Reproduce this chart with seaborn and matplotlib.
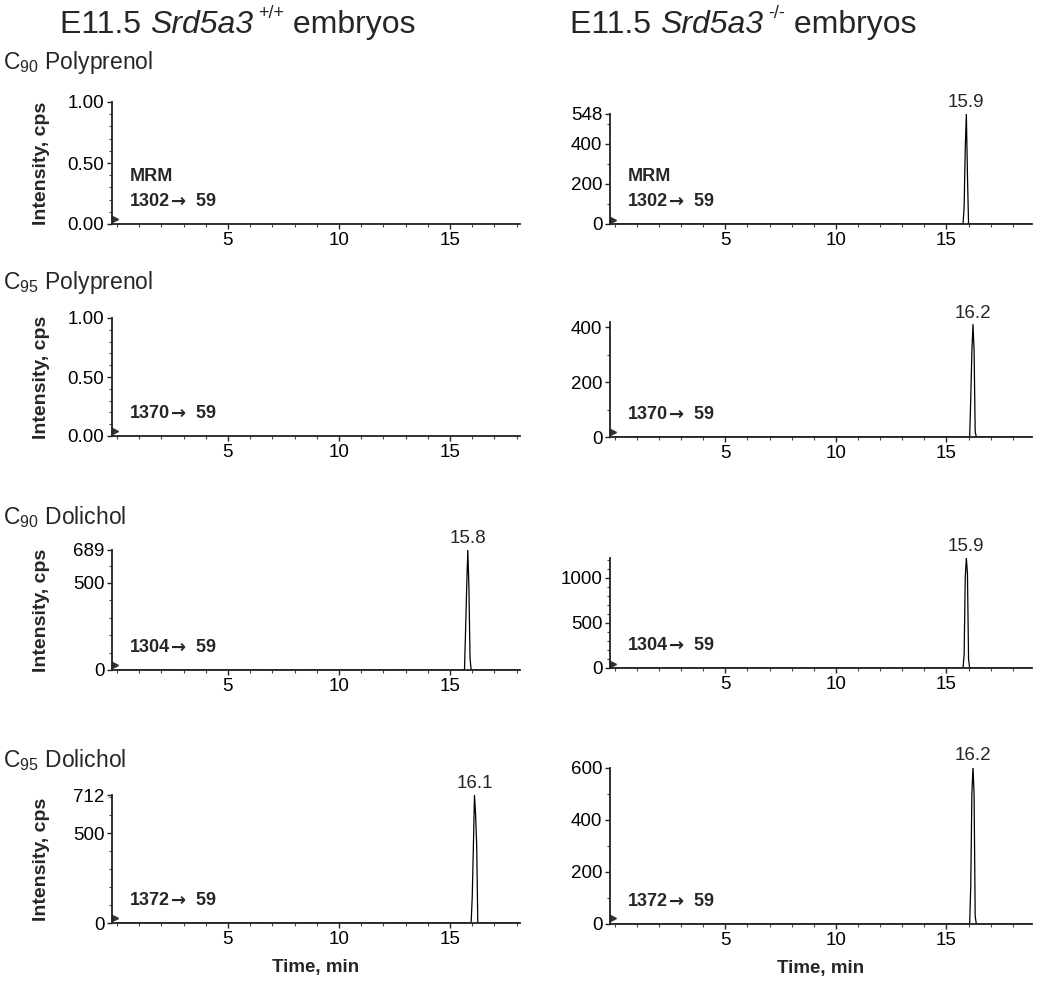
import numpy as np
import pandas as pd
import matplotlib
matplotlib.use("Agg")
import matplotlib.pyplot as plt
import seaborn as sns
from matplotlib.ticker import MultipleLocator, FixedLocator

# ---- data (time in min, intensity in cps) ----
# Srd5a3 +/+ (left column)
wt_c90_poly_t = [0.0, 18.7]
wt_c90_poly_y = [0, 0]
wt_c95_poly_t = [0.0, 18.7]
wt_c95_poly_y = [0, 0]
wt_c90_doli_t = [0.0, 15.65, 15.7, 15.75, 15.8, 15.85, 15.9, 15.95, 18.7]
wt_c90_doli_y = [0, 0, 230, 477, 689, 477, 69, 0, 0]
wt_c95_doli_t = [0.0, 15.95, 16.0, 16.05, 16.1, 16.15, 16.2, 16.25, 18.7]
wt_c95_doli_y = [0, 0, 147, 420, 712, 604, 430, 0, 0]

# Srd5a3 -/- (right column)
ko_c90_poly_t = [0.0, 15.75, 15.8, 15.85, 15.9, 15.95, 16.0, 18.9]
ko_c90_poly_y = [0, 0, 86, 377, 548, 244, 0, 0]
ko_c95_poly_t = [0.0, 16.05, 16.1, 16.15, 16.2, 16.25, 16.3, 16.35, 18.9]
ko_c95_poly_y = [0, 0, 140, 315, 411, 315, 20, 0, 0]
ko_c90_doli_t = [0.0, 15.75, 15.8, 15.85, 15.9, 15.95, 16.0, 16.05, 18.9]
ko_c90_doli_y = [0, 0, 150, 1000, 1222, 1050, 100, 0, 0]
ko_c95_doli_t = [0.0, 16.05, 16.1, 16.15, 16.2, 16.25, 16.3, 16.35, 18.9]
ko_c95_doli_y = [0, 0, 150, 500, 605, 500, 30, 0, 0]

row_names = ["C$_{90}$ Polyprenol", "C$_{95}$ Polyprenol", "C$_{90}$ Dolichol", "C$_{95}$ Dolichol"]
precursors = ["1302", "1370", "1304", "1372"]
product_ion = "59"
wt_peak_labels = [None, None, "15.8", "16.1"]
ko_peak_labels = ["15.9", "16.2", "15.9", "16.2"]
wt_yticks = [[0, 0.5, 1.0], [0, 0.5, 1.0], [0, 500, 689], [0, 500, 712]]
ko_yticks = [[0, 200, 400, 548], [0, 200, 400], [0, 500, 1000], [0, 200, 400, 600]]
wt_ymax = [1.0, 1.0, 689, 712]
ko_ymax = [548, 420, 1222, 600]

wt_series = [(wt_c90_poly_t, wt_c90_poly_y), (wt_c95_poly_t, wt_c95_poly_y),
             (wt_c90_doli_t, wt_c90_doli_y), (wt_c95_doli_t, wt_c95_doli_y)]
ko_series = [(ko_c90_poly_t, ko_c90_poly_y), (ko_c95_poly_t, ko_c95_poly_y),
             (ko_c90_doli_t, ko_c90_doli_y), (ko_c95_doli_t, ko_c95_doli_y)]

# ---- style ----
sns.set_style("ticks")
plt.rcParams['font.family'] = ['Liberation Sans', 'DejaVu Sans']
plt.rcParams['mathtext.fontset'] = 'custom'
plt.rcParams['mathtext.rm'] = 'Liberation Sans'
plt.rcParams['mathtext.it'] = 'Liberation Sans:italic'

W, H = 1050, 991
fig = plt.figure(figsize=(W / 100, H / 100), dpi=100)

# axes boxes in pixels: (left, right, top, bottom)
wt_boxes = [(112, 520, 102, 224), (112, 520, 318, 436), (112, 520, 550, 670), (112, 520, 795, 923)]
ko_boxes = [(610, 1032, 114, 224), (610, 1032, 322, 437), (610, 1032, 558, 668), (610, 1032, 768, 924)]
wt_xlim = (-0.22, 18.15)
ko_xlim = (-0.22, 18.87)


def make_axes(box):
    l, r, t, b = box
    return fig.add_axes([l / W, 1 - b / H, (r - l) / W, (b - t) / H])


def transition_label(ax, prec, offset):
    t1 = ax.annotate(prec, xy=(0, 0), xycoords="axes fraction", xytext=offset,
                     textcoords="offset points", fontsize=13, fontweight="bold",
                     ha="left", va="center")
    ax.annotate("\u2192", xy=(1, 0), xycoords=t1, xytext=(0.5, -0.5),
                textcoords="offset points", fontsize=13, fontweight="bold",
                family="DejaVu Sans", ha="left", va="bottom")
    ax.annotate(" " + product_ion, xy=(1, 0), xycoords=t1, xytext=(15, 0),
                textcoords="offset points", fontsize=13, fontweight="bold",
                ha="left", va="bottom")


def draw_panel(ax, t, y, xlim, ymax, yticks, peak_label, prec, mrm, ylabel, xlabel):
    df = pd.DataFrame({"time": t, "intensity": y})
    sns.lineplot(data=df, x="time", y="intensity", ax=ax, color="black",
                 linewidth=0.9, estimator=None, sort=False)
    ax.set_xlim(*xlim)
    ax.set_ylim(0, ymax)
    ax.set_xticks([5, 10, 15])
    ax.xaxis.set_minor_locator(MultipleLocator(1))
    ax.yaxis.set_major_locator(FixedLocator(yticks))
    if ymax <= 1.0:
        ax.set_yticklabels([f"{v:.2f}" for v in yticks])
        ax.yaxis.set_minor_locator(MultipleLocator(0.1))
    else:
        ax.set_yticklabels([f"{v:d}" for v in yticks])
        ax.yaxis.set_minor_locator(MultipleLocator(100))
    ax.tick_params(axis="both", which="major", labelsize=13.5, length=3.5, width=1,
                   color="#222222", labelcolor="black", pad=2)
    ax.tick_params(axis="both", which="minor", length=2, width=0.8, color="#444444")
    for s in ["top", "right"]:
        ax.spines[s].set_visible(False)
    for s in ["left", "bottom"]:
        ax.spines[s].set_linewidth(1.3)
        ax.spines[s].set_color("#222222")

    ax.set_xlabel("")
    ax.set_ylabel("")
    if ylabel:
        ax.set_ylabel("Intensity, cps", fontsize=14, fontweight="bold")
        ax.yaxis.set_label_coords(-0.152, 0.5)
    if xlabel:
        ax.set_xlabel("Time, min", fontsize=13.5, fontweight="bold", labelpad=8)

    # origin marker
    ax.plot([xlim[0] + 0.12], [ymax * 0.04], marker=">", color="#333333",
            markersize=5, clip_on=False, linestyle="none")

    # MRM transition annotation
    transition_label(ax, prec, (13, 16))
    if mrm:
        ax.annotate("MRM", xy=(0, 0), xycoords="axes fraction", xytext=(13, 34),
                    textcoords="offset points", fontsize=13, fontweight="bold",
                    ha="left", va="center")

    if peak_label is not None:
        i = int(np.argmax(y))
        ax.annotate(peak_label, xy=(t[i], y[i]), xytext=(0, 2), textcoords="offset points",
                    ha="center", va="bottom", fontsize=13.5, annotation_clip=False)


for r in range(4):
    axl = make_axes(wt_boxes[r])
    draw_panel(axl, wt_series[r][0], wt_series[r][1], wt_xlim, wt_ymax[r], wt_yticks[r],
               wt_peak_labels[r], precursors[r], r == 0, True, r == 3)
    axr = make_axes(ko_boxes[r])
    draw_panel(axr, ko_series[r][0], ko_series[r][1], ko_xlim, ko_ymax[r], ko_yticks[r],
               ko_peak_labels[r], precursors[r], r == 0, False, r == 3)

# column titles, built from pieces so the gene name is fully italic
for x0, geno in [(60, "+/+"), (570, "-/-")]:
    p = fig.text(x0 / W, 1 - 40 / H, "E11.5 ", fontsize=23, ha="left", va="bottom")
    p = plt.annotate("Srd5a3", xy=(1, 0), xycoords=p, fontsize=23,
                     style="italic", va="bottom", ha="left")
    p = plt.annotate(geno, xy=(1, 0), xycoords=p, xytext=(4, 13), textcoords="offset points",
                     fontsize=13, va="bottom", ha="left")
    plt.annotate(" embryos", xy=(1, 0), xycoords=p, xytext=(0, -13), textcoords="offset points",
                 fontsize=23, va="bottom", ha="left")

# row titles
row_y = [62, 283, 517, 760]
for name, yy in zip(row_names, row_y):
    fig.text(3 / W, 1 - yy / H, name, fontsize=16.5, ha="left", va="center")

fig.savefig("out.png", dpi=100, facecolor="white")
